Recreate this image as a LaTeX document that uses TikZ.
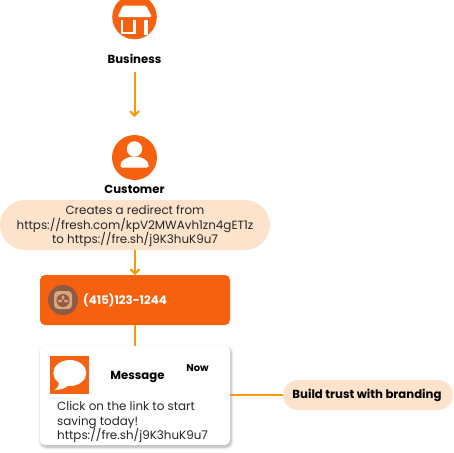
\documentclass[tikz,border=0pt]{standalone}
\usepackage{fontspec}
\setmainfont{Poppins}
\usetikzlibrary{arrows.meta,shadows.blur}
\definecolor{brandorange}{HTML}{F5610F}
\definecolor{lineorange}{HTML}{F59A0C}
\definecolor{peach}{HTML}{FDE3CC}
\definecolor{iconbrown}{HTML}{8F5A45}
\definecolor{icontan}{HTML}{D9A67C}
\tikzset{
  x=1pt,y=-1pt,
  conn/.style={draw=lineorange,line width=2pt},
  arrowconn/.style={conn,-{Straight Barb[length=4.5pt,width=9pt,line width=2pt]}},
  bodytext/.style={font=\fontsize{11.9}{14.5}\selectfont,text=black!85},
  boldtext/.style={font=\fontsize{11.7}{12}\selectfont\bfseries,text=black},
}
\begin{document}
\begin{tikzpicture}
\useasboundingbox (0,0) rectangle (453,453);
\clip (0,0) rectangle (453,453);
% Business icon
\fill[brandorange] (134.5,17) circle (22.3);
\fill[white,rounded corners=1.5pt] (123,5.5) -- (146,5.5) -- (152,17) -- (117.5,17) -- cycle;
\draw[white,line width=2.4pt] (122,20) -- (122,33) -- (134.5,33) -- (134.5,20);
\fill[white] (144,20) rectangle (148,35);
\node[boldtext] (business) at (134.5,59) {Business};
% Customer icon
\fill[brandorange] (134.5,157.5) circle (22.5);
\fill[white] (134.5,149) circle (7.7);
\fill[white,rounded corners=1.5pt] (120.5,167.5) -- (120.5,166) arc[start angle=180,end angle=0,x radius=14,y radius=-9.5] -- (148.5,167.5) -- cycle;
\node[boldtext] (customer) at (134.5,189) {Customer};
% Redirect pill
\path[fill=peach,rounded corners=25pt] (0,200) rectangle (270,250);
\node[bodytext,align=center] (redirect) at (135,226.3) {Creates a redirect from\\https://fresh.com/kpV2MWAvh1zn4gET1z\\to https://fre.sh/j9K3huK9u7};
% Orange box
\fill[brandorange,rounded corners=5pt] (40,275) rectangle (230,325);
\coordinate (boxtop) at (135,275);
\coordinate (boxbot) at (135,325);
\fill[iconbrown] (63,300) circle (15);
\fill[icontan,rounded corners=4pt] (54,291) rectangle (72,309);
\fill[iconbrown] (63,300.5) circle (6.5);
\fill[icontan] (63,297.5) ellipse (1.5 and 2.2);
\fill[icontan] (60,301) ellipse (2.2 and 1.4);
\fill[icontan] (66,301) ellipse (2.2 and 1.4);
\node[font=\fontsize{11.8}{12}\selectfont\bfseries,text=white,anchor=west,inner sep=0pt] (phone) at (83,300) {(415)123-1244};
% Card
\fill[white,rounded corners=5pt,blur shadow={shadow blur steps=6,shadow xshift=1pt,shadow yshift=-2pt,shadow blur radius=3pt,shadow opacity=35}] (40,346) rectangle (230,445);
\coordinate (cardtop) at (135,346);
\coordinate (cardright) at (230,395);
\fill[brandorange] (50,356) rectangle (89,394);
\fill[white] (69.8,373) ellipse (16.5 and 13);
\fill[white] (59,380) .. controls (59,386) and (58,388) .. (55,390) .. controls (60,390) and (66,388) .. (69,385) -- cycle;
\node[boldtext] (message) at (137.5,376.5) {Message};
\node[font=\fontsize{9.9}{10}\selectfont\bfseries,text=black] (now) at (197.5,368.5) {Now};
\node[bodytext,align=left,anchor=north west,inner sep=0pt] (msgbody) at (57,401.3) {Click on the link to start\\saving today!\\https://fre.sh/j9K3huK9u7};
% Trust pill
\path[fill=peach,rounded corners=15pt] (283,380) rectangle (453,410);
\node[boldtext] (trust) at (367,395.5) {Build trust with branding};
\coordinate (trustleft) at (283,395);
\coordinate (redirbot) at (135,250);
\coordinate (businessbot) at (134.5,72);
\coordinate (customertop) at (134.5,117);
% connectors
\draw[arrowconn] (businessbot) -- (customertop);
\draw[arrowconn] (redirbot) -- (boxtop);
\draw[conn] (boxbot) -- (cardtop);
\draw[conn] (cardright) -- (trustleft);
\end{tikzpicture}
\end{document}
